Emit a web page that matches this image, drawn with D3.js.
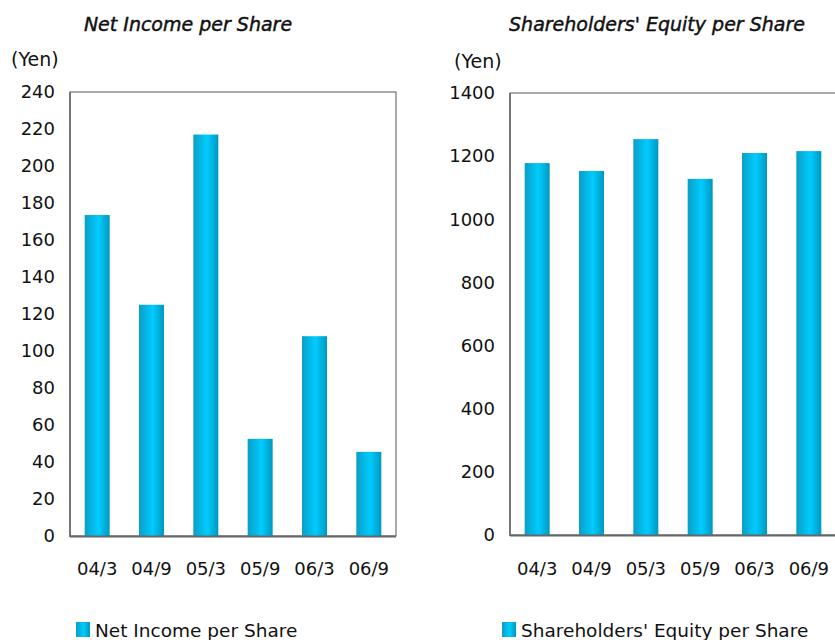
<!DOCTYPE html>
<html>
<head>
<meta charset="utf-8">
<script src="https://cdn.jsdelivr.net/npm/d3@7"></script>
<style>
  body { margin: 0; background: #fff; }
  text { font-family: "DejaVu Sans", Verdana, sans-serif; fill: #111; }
</style>
</head>
<body>
<div id="chart"></div>
<script>
// data
const periods = ["04/3", "04/9", "05/3", "05/9", "06/3", "06/9"];
const netIncome = [173.5, 125, 217, 52.5, 108, 45.5];
const equity = [1178, 1153, 1254, 1128, 1210, 1216];
const incomeTicks = [0, 20, 40, 60, 80, 100, 120, 140, 160, 180, 200, 220, 240];
const equityTicks = [0, 200, 400, 600, 800, 1000, 1200, 1400];

let width = 835, height = 640;

const svg = d3.select("#chart")
  .append("svg")
  .attr("width", width)
  .attr("height", height);

// cylinder-like horizontal gradient for bars
const grad = svg.append("defs").append("linearGradient")
  .attr("id", "barGrad")
  .attr("x1", "0%").attr("x2", "100%").attr("y1", "0%").attr("y2", "0%");
grad.append("stop").attr("offset", "0%").attr("stop-color", "#0a9ec6");
grad.append("stop").attr("offset", "55%").attr("stop-color", "#00ccff");
grad.append("stop").attr("offset", "100%").attr("stop-color", "#0098bf");

function drawChart(opts) {
  const { left, right, top, bottom, values, ticks, max, title, titleX, legend, legendX, yenX, yenY, labelY } = opts;

  const x = d3.scaleBand()
    .domain(periods)
    .range([left, right])
    .paddingInner(0.54)
    .paddingOuter(0.27);

  const y = d3.scaleLinear()
    .domain([0, max])
    .range([bottom, top]);

  const g = svg.append("g");

  // title (slightly heavier than regular)
  g.append("text")
    .attr("x", titleX).attr("y", 31)
    .attr("text-anchor", "middle")
    .attr("font-style", "italic")
    .attr("font-size", 19)
    .attr("stroke", "#111")
    .attr("stroke-width", 0.45)
    .text(title);

  g.append("text")
    .attr("x", yenX).attr("y", yenY)
    .attr("font-size", 19)
    .text("(Yen)");

  // plot frame
  g.append("rect")
    .attr("x", left).attr("y", top)
    .attr("width", right - left).attr("height", bottom - top)
    .attr("fill", "none")
    .attr("stroke", "#555")
    .attr("stroke-width", 1);

  // y axis labels
  const yAxis = g.append("g")
    .attr("transform", `translate(${left},0)`)
    .call(d3.axisLeft(y).tickValues(ticks).tickFormat(d3.format("d")).tickSize(0).tickPadding(15));
  yAxis.select(".domain").remove();
  yAxis.selectAll("text").attr("font-size", 18).attr("fill", "#111")
    .style("font-family", "'DejaVu Sans', Verdana, sans-serif");

  // bars
  g.append("g")
    .selectAll("rect")
    .data(values)
    .join("rect")
    .attr("x", (d, i) => x(periods[i]))
    .attr("y", d => y(d))
    .attr("width", x.bandwidth())
    .attr("height", d => y(0) - y(d))
    .attr("fill", "url(#barGrad)");

  // heavier left/bottom axis lines
  g.append("line")
    .attr("x1", left).attr("x2", left).attr("y1", top).attr("y2", bottom + 1)
    .attr("stroke", "#777").attr("stroke-width", 2);
  g.append("line")
    .attr("x1", left).attr("x2", right).attr("y1", bottom + 0.5).attr("y2", bottom + 0.5)
    .attr("stroke", "#666").attr("stroke-width", 2);

  // x labels
  const xAxis = g.append("g")
    .attr("transform", `translate(0,${labelY})`)
    .call(d3.axisBottom(x).tickSize(0).tickPadding(0));
  xAxis.select(".domain").remove();
  xAxis.selectAll("text").attr("font-size", 18).attr("fill", "#111")
    .style("font-family", "'DejaVu Sans', Verdana, sans-serif");

  // legend
  g.append("rect")
    .attr("x", legendX).attr("y", 622)
    .attr("width", 14).attr("height", 15)
    .attr("fill", "url(#barGrad)");
  g.append("text")
    .attr("x", legendX + 19).attr("y", 637)
    .attr("font-size", 18.5)
    .text(legend);
}

drawChart({
  left: 70, right: 396, top: 92, bottom: 536,
  values: netIncome, ticks: incomeTicks, max: 240,
  title: "Net Income per Share", titleX: 188,
  legend: "Net Income per Share", legendX: 76,
  yenX: 11, yenY: 66, labelY: 562
});

drawChart({
  left: 510, right: 836, top: 93, bottom: 535,
  values: equity, ticks: equityTicks, max: 1400,
  title: "Shareholders' Equity per Share", titleX: 657,
  legend: "Shareholders' Equity per Share", legendX: 502,
  yenX: 454, yenY: 68, labelY: 562
});
</script>
</body>
</html>
